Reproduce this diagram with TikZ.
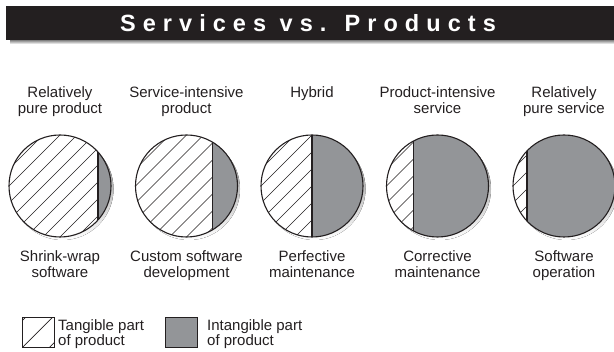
\documentclass[tikz,border=0pt]{standalone}
\usepackage{fontspec}
\setmainfont{Liberation Sans}
\newfontfamily\titlefont[LetterSpace=30]{Liberation Sans}
\definecolor{ink}{HTML}{231F20}
\definecolor{intang}{HTML}{939598}
\definecolor{shade}{HTML}{DCDDDE}
\tikzset{
  lbl/.style={align=center, font=\fontsize{15}{16.5}\selectfont, text=ink, inner sep=0pt, anchor=base},
  key/.style={align=left, font=\fontsize{15}{15}\selectfont, text=ink, inner sep=0pt, anchor=base west},
  hatch/.style={ink, line width=0.7pt},
  rim/.style={ink, line width=1.1pt},
  keybox/.style={draw=ink, line width=0.9pt, minimum width=32pt, minimum height=30pt, inner sep=0pt}
}
\begin{document}
\begin{tikzpicture}[x=1pt,y=-1pt]
\useasboundingbox (0,0) rectangle (614,352);
% title bar
\fill[shade] (10,40) rectangle (614,44);
\fill[ink] (6,6) rectangle (614,40);
\node[text=white, inner sep=0pt, anchor=base, font=\titlefont\bfseries\fontsize{23.5}{26}\selectfont] (title) at (308,32) {Services vs. Products};

% the five circles (base of a label = its last line)
\foreach \i/\cx/\d/\up/\dn in {
  1/60/38/Relatively\\pure product/Shrink-wrap\\software,
  2/186.5/26/Service-intensive\\product/Custom software\\development,
  3/312/0/Hybrid\\\mbox{}/Perfective\\maintenance,
  4/437.5/-24/Product-intensive\\service/Corrective\\maintenance,
  5/564/-37/Relatively\\pure service/Software\\operation}
{
  \pgfmathsetmacro\h{sqrt(51*51-\d*\d)}
  \coordinate (c\i) at (\cx,186);
  \fill[shade] (\cx+2.5,189) circle (51pt);
  \fill[white] (c\i) circle (51pt);
  \begin{scope}
    \clip (c\i) circle (51pt);
    \foreach \k in {-8,...,8}
      \draw[hatch] (\cx+\k*17-60,246) -- ++(120,-120);
    \fill[intang] (\cx+\d,130) rectangle (\cx+60,240);
  \end{scope}
  \draw[rim] (\cx+\d,186-\h) -- (\cx+\d,186+\h);
  \draw[rim] (c\i) circle (51pt);
  \node[lbl] (up\i) at (\cx,114) {\up};
  \node[lbl] (dn\i) at (\cx,278) {\dn};
}

% legend
\node[keybox, anchor=north west, path picture={
    \foreach \k in {-1,0,1}
      \draw[hatch] ([xshift=\k*27pt]path picture bounding box.south west) -- ++(32pt,32pt);
  }] (tangbox) at (22,317) {};
\node[key] (tang) at (58,346) {Tangible part\\of product};
\node[keybox, fill=intang, anchor=north west] (intbox) at (165,317) {};
\node[key] (intg) at (207,346) {Intangible part\\of product};
\end{tikzpicture}
\end{document}
